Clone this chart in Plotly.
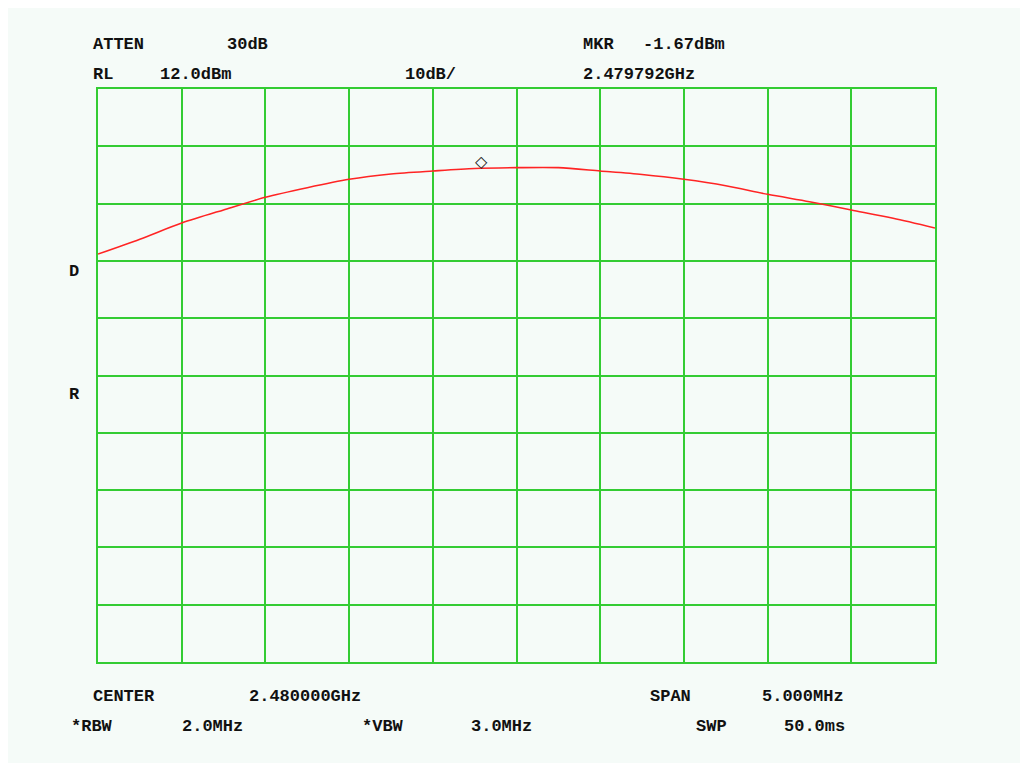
import plotly.graph_objects as go

# ---- data ----
center_ghz = 2.480000
span_mhz = 5.0
ref_level = 12.0
db_per_div = 10.0

# trace sampled every half division (21 points across the span)
trace_dbm = [-16.8, -14.2, -11.4, -9.1, -6.9, -5.23, -3.76, -2.83, -2.31, -1.87,
             -1.73, -1.73, -2.31, -2.92, -3.76, -4.88, -6.38, -7.67, -9.12, -10.57, -12.26]

mkr_freq_ghz = 2.479792
mkr_level = -1.67

start = center_ghz - span_mhz / 2000.0
stop = center_ghz + span_mhz / 2000.0
n = len(trace_dbm)
freqs = [start + i * (stop - start) / (n - 1) for i in range(n)]

# page body has an 8px margin; figure fits inside the 1028x771 window
OFF = 8
W, H = 1028 - 2 * OFF, 771 - 2 * OFF
L, R, T, B = 98 - OFF, 935 - OFF, 89 - OFF, 662 - OFF
BG = "#f5fbf8"
GRID = "#33cc33"

fig = go.Figure()
fig.add_trace(go.Scatter(x=freqs, y=trace_dbm, mode="lines",
                         line=dict(color="#ff2424", width=1.6, shape="spline", smoothing=0.8),
                         hoverinfo="skip", showlegend=False))

def px(x):
    return (x - OFF - L) / (R - L)

def py(y):
    return (B - (y - OFF)) / (B - T)

font = dict(family="Liberation Mono, DejaVu Sans Mono, monospace", size=17, color="#111111", weight="bold")

labels = [
    ("ATTEN", 93, 44), ("30dB", 227, 44), ("MKR", 583, 44), ("-1.67dBm", 643, 44),
    ("RL", 93, 74), ("12.0dBm", 160, 74), ("10dB/", 405, 74), ("2.479792GHz", 583, 74),
    ("D", 69, 271), ("R", 69, 394),
    ("CENTER", 93, 696), ("2.480000GHz", 249, 696), ("SPAN", 650, 696), ("5.000MHz", 762, 696),
    ("*RBW", 71, 726), ("2.0MHz", 182, 726), ("*VBW", 362, 726), ("3.0MHz", 471, 726),
    ("SWP", 696, 726), ("50.0ms", 784, 726),
]
annotations = []
for txt, x, y in labels:
    annotations.append(dict(text=txt, x=px(x - 2), y=py(y), xref="paper", yref="paper",
                            xanchor="left", yanchor="middle", showarrow=False, font=font))

# marker diamond drawn just above the trace point
annotations.append(dict(text="◇", x=mkr_freq_ghz, y=mkr_level, xref="x", yref="y",
                        xanchor="center", yanchor="middle", yshift=6, showarrow=False,
                        font=dict(family="DejaVu Sans", size=16, color="#222222")))

fig.update_layout(
    width=W, height=H,
    margin=dict(l=L, r=W - R, t=T, b=H - B),
    paper_bgcolor=BG, plot_bgcolor=BG,
    annotations=annotations,
    showlegend=False,
)
fig.update_xaxes(range=[start, stop], dtick=(stop - start) / 10, tick0=start,
                 showgrid=True, gridcolor=GRID, gridwidth=2,
                 showline=True, mirror=True, linecolor=GRID, linewidth=2,
                 showticklabels=False, ticks="", zeroline=False)
fig.update_yaxes(range=[ref_level - 10 * db_per_div, ref_level], dtick=db_per_div, tick0=ref_level,
                 showgrid=True, gridcolor=GRID, gridwidth=2,
                 showline=True, mirror=True, linecolor=GRID, linewidth=2,
                 showticklabels=False, ticks="", zeroline=False)

fig.write_html("out.html")
